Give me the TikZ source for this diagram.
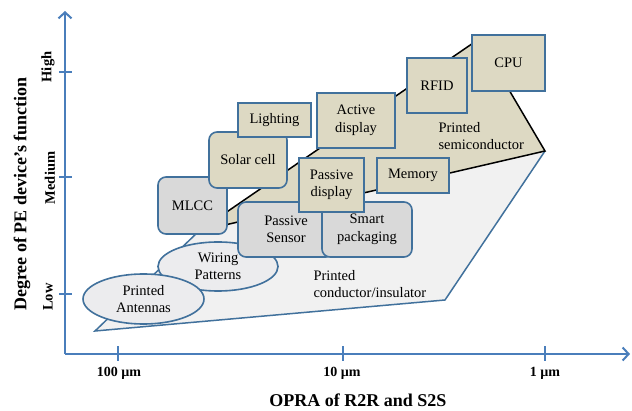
\documentclass[tikz,border=0pt]{standalone}
\usepackage{fontspec}
\setmainfont{Liberation Serif}
\usetikzlibrary{arrows.meta,shapes.geometric}
\definecolor{axisblue}{RGB}{74,126,187}
\definecolor{boxblue}{RGB}{65,113,156}
\definecolor{beige}{RGB}{221,217,195}
\definecolor{boxgray}{RGB}{217,217,217}
\definecolor{lightbg}{RGB}{241,241,241}
\definecolor{ellgray}{RGB}{236,236,238}
\tikzset{
  axisline/.style={draw=axisblue,line width=2.2pt},
  tickline/.style={draw=axisblue,line width=2pt},
  txt/.style={font=\fontsize{14.5}{17.5}\selectfont,text=black},
  ticklbl/.style={font=\bfseries\fontsize{14}{16}\selectfont},
  levellbl/.style={font=\bfseries\fontsize{14.5}{16}\selectfont,rotate=90},
  axtitle/.style={font=\bfseries\fontsize{18}{20}\selectfont},
  tanbox/.style={txt,draw=boxblue,line width=1.6pt,fill=beige,align=center,inner sep=0pt},
  graybox/.style={txt,draw=boxblue,line width=1.6pt,fill=boxgray,align=center,inner sep=0pt,rounded corners=8pt},
  ellbox/.style={txt,ellipse,draw=boxblue,line width=1.6pt,fill=ellgray,align=center,inner sep=0pt},
}
\begin{document}
\begin{tikzpicture}[x=1pt,y=-1pt]
\useasboundingbox (0,0) rectangle (632,411);
% region coordinates
\coordinate (gA) at (95,331);
\coordinate (gB) at (199,231);
\coordinate (gC) at (545,151);
\coordinate (gD) at (445,300);
\coordinate (bT) at (479,39);
% printed conductor/insulator region
\fill[lightbg] (gA) -- (gB) -- (gC) -- (gD) -- cycle;
\draw[boxblue,line width=1.5pt,line join=miter] (gB) -- (gA) -- (gD) -- (gC);
% printed semiconductor region
\draw[black,line width=1.5pt,fill=beige,line join=miter] (gB) -- (bT) -- (gC) -- cycle;
% region labels
\node[txt,align=left,anchor=west] (semi) at (435,136) {Printed\\semiconductor};
\node[txt,align=left,anchor=west] (cond) at (310,284) {Printed\\conductor/insulator};
% ellipses
\node[ellbox,minimum width=120pt,minimum height=49pt] (wiring) at (218,266.5) {Wiring\\Patterns};
\node[ellbox,minimum width=121pt,minimum height=50pt] (antennas) at (143.5,299) {Printed\\Antennas};
% boxes
\node[graybox,minimum width=69pt,minimum height=57pt] (mlcc) at (192.5,205.5) {MLCC};
\node[tanbox,rounded corners=8pt,minimum width=78pt,minimum height=56pt] (solar) at (248,160) {Solar cell};
\node[tanbox,minimum width=73pt,minimum height=34pt] (lighting) at (274.5,120) {Lighting};
\node[graybox,minimum width=96pt,minimum height=55pt] (psensor) at (286,229.5) {Passive\\Sensor};
\node[graybox,minimum width=90pt,minimum height=55pt] (smart) at (367,229.5) {Smart\\packaging};
\node[tanbox,minimum width=65pt,minimum height=54pt] (pdisp) at (331.5,185) {Passive\\display};
\node[tanbox,minimum width=78pt,minimum height=55pt] (adisp) at (356,120.5) {Active\\display};
\node[tanbox,minimum width=72pt,minimum height=35pt] (memory) at (413,175.5) {Memory};
\node[tanbox,minimum width=60pt,minimum height=55pt] (rfid) at (437,85.5) {RFID};
\node[tanbox,minimum width=73pt,minimum height=56pt] (cpu) at (508.5,63) {CPU};
% axes
\coordinate (O) at (65,354);
\coordinate (ytop) at (65,11);
\coordinate (xend) at (630,354);
\draw[axisline,-{Straight Barb[length=6pt,width=13pt,line width=2pt]}] (O) -- (ytop);
\draw[axisline,-{Straight Barb[length=6pt,width=13pt,line width=2pt]}] (O) -- (xend);
% y ticks
\coordinate (yh) at (65,72);
\coordinate (ym) at (65,177);
\coordinate (yl) at (65,294);
\foreach \c in {yh,ym,yl} \draw[tickline] ([xshift=-6pt]\c) -- ([xshift=7pt]\c);
% x ticks
\coordinate (x100) at (118,354);
\coordinate (x10) at (343,354);
\coordinate (x1) at (545,354);
\foreach \c in {x100,x10,x1} \draw[tickline] ([yshift=-7pt]\c) -- ([yshift=8pt]\c);
% labels
\node[levellbl] (high) at (48,67) {High};
\node[levellbl] (medium) at (50,178) {Medium};
\node[levellbl] (low) at (48,297) {Low};
\node[ticklbl] (l100) at (119,373) {100 µm};
\node[ticklbl] (l10) at (342,373) {10 µm};
\node[ticklbl] (l1) at (545,373) {1 µm};
\node[axtitle] (xtitle) at (358,400) {OPRA of R2R and S2S};
\node[axtitle,rotate=90] (ytitle) at (22,194) {Degree of PE device’s function};
\end{tikzpicture}
\end{document}
